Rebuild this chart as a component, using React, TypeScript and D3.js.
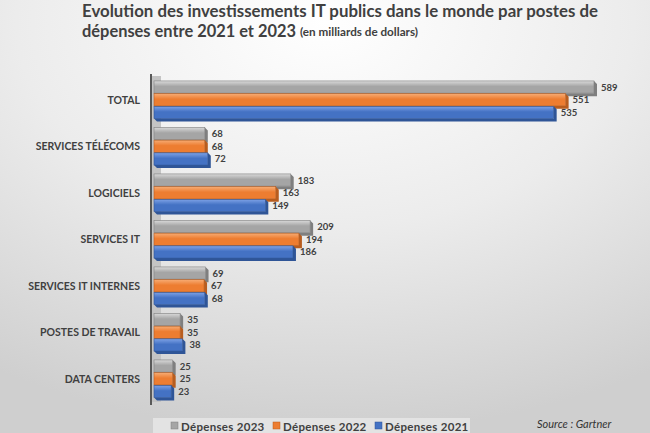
import React from "react";
import * as d3 from "d3";

const categories = [
  "TOTAL",
  "SERVICES TÉLÉCOMS",
  "LOGICIELS",
  "SERVICES IT",
  "SERVICES IT INTERNES",
  "POSTES DE TRAVAIL",
  "DATA CENTERS",
];
const seriesNames = ["Dépenses 2023", "Dépenses 2022", "Dépenses 2021"];
const values2023 = [589, 68, 183, 209, 69, 35, 25];
const values2022 = [551, 68, 163, 194, 67, 35, 25];
const values2021 = [535, 72, 149, 186, 68, 38, 23];
const seriesValues = [values2023, values2022, values2021];
const seriesColors = [
  { base: "#a5a5a5", light: "#d9d9d9", dark: "#7f7f7f" },
  { base: "#ed7d31", light: "#f7ac74", dark: "#b85d1f" },
  { base: "#4472c4", light: "#7ea2e6", dark: "#2f5597" },
];
const titleLine1 = "Evolution des investissements IT publics dans le monde par postes de";
const titleLine2 = "dépenses entre 2021 et 2023";
const subtitle = "(en milliards de dollars)";
const source = "Source : Gartner";

const W = 650;
const H = 433;
const FONT = "Lato, 'Open Sans', sans-serif";
const TEXT = "#404040";

export default function App() {
  const x = d3.scaleLinear().domain([0, 589]).range([154, 594]);
  const y0 = d3
    .scaleBand<string>()
    .domain(categories)
    .range([76.75, 402.25])
    .paddingInner(0.18)
    .paddingOuter(0.09);
  const y1 = d3
    .scaleBand<string>()
    .domain(seriesNames)
    .range([0, y0.bandwidth()]);
  const depth = 3;

  return (
    <svg
      width={W}
      height={H}
      style={{ position: "absolute", left: 0, top: 0, display: "block" }}
      fontFamily={FONT}
    >
      <defs>
        <radialGradient id="bg" cx="0.5" cy="0.05" r="0.95" fx="0.5" fy="0.05">
          <stop offset="0" stopColor="#ffffff" />
          <stop offset="0.5" stopColor="#ececec" />
          <stop offset="1" stopColor="#cfcfcf" />
        </radialGradient>
        {seriesColors.map((c, i) => (
          <linearGradient key={i} id={`g${i}`} x1="0" y1="0" x2="0" y2="1">
            <stop offset="0" stopColor={c.light} />
            <stop offset="0.45" stopColor={c.base} />
            <stop offset="1" stopColor={c.base} />
          </linearGradient>
        ))}
      </defs>
      <rect x={0} y={0} width={W} height={H} fill="url(#bg)" />

      {/* title */}
      <text x={82} y={17} fontSize={16.5} fontWeight={700} fill={TEXT} textLength={516} lengthAdjust="spacingAndGlyphs">
        {titleLine1}
      </text>
      <text x={82} y={37} fontSize={16.5} fontWeight={700} fill={TEXT} textLength={214} lengthAdjust="spacingAndGlyphs">
        {titleLine2}
      </text>
      <text x={300} y={36} fontSize={10.5} fontWeight={700} fill={TEXT} textLength={118} lengthAdjust="spacingAndGlyphs">
        {subtitle}
      </text>

      {/* 3D wall and axis */}
      <rect x={152} y={76} width={9} height={326} fill="#c4c4c4" />
      <line x1={151} x2={151} y1={74} y2={405} stroke="#595959" strokeWidth={2} />

      {/* bars */}
      {categories.map((cat, ci) => (
        <g key={cat}>
          {seriesNames.map((s, si) => {
            const v = seriesValues[si][ci];
            const yy = (y0(cat) as number) + (y1(s) as number);
            const h = y1.bandwidth() - 0.5;
            const x0 = x(0);
            const x1 = x(v);
            const c = seriesColors[si];
            return (
              <g key={s}>
                <polygon
                  points={`${x1},${yy} ${x1 + depth},${yy + depth} ${x1 + depth},${yy + h + depth} ${x0 + depth},${yy + h + depth} ${x0},${yy + h} ${x1},${yy + h}`}
                  fill={c.dark}
                />
                <rect x={x0} y={yy} width={x1 - x0} height={h} fill={`url(#g${si})`} stroke={c.dark} strokeWidth={0.6} />
                <text
                  x={x1 + depth + 4}
                  y={yy + h / 2 + 3.5}
                  fontSize={9.5}
                  fontWeight={700}
                  fill="#404040"
                >
                  {v}
                </text>
              </g>
            );
          })}
          <text
            x={140}
            y={(y0(cat) as number) + y0.bandwidth() / 2 + 3.5}
            fontSize={10.5}
            fontWeight={700}
            fill={TEXT}
            textAnchor="end"
          >
            {cat}
          </text>
        </g>
      ))}

      {/* legend */}
      <rect x={153} y={418} width={317} height={15} fill="#e3e3e3" />
      {seriesNames.map((s, si) => {
        const lx = 171 + si * 102;
        return (
          <g key={s}>
            <rect x={lx} y={422} width={7} height={7} fill={seriesColors[si].base} stroke={seriesColors[si].dark} strokeWidth={0.5} />
            <text x={lx + 10} y={431} fontSize={11.5} fontWeight={700} fill={TEXT} letterSpacing={0.3}>
              {s}
            </text>
          </g>
        );
      })}
      <text x={537} y={428} fontSize={11} fontStyle="italic" fill="#333">
        {source}
      </text>
    </svg>
  );
}
